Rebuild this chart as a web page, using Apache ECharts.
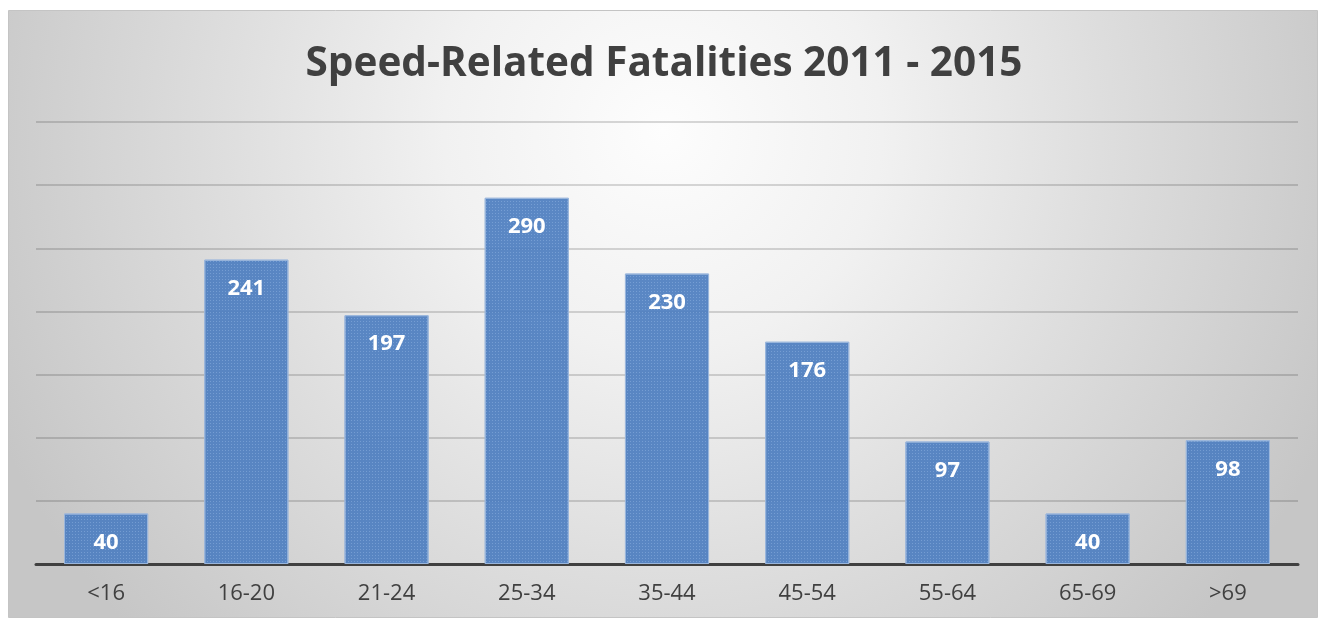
<!DOCTYPE html>
<html><head><meta charset="utf-8">
<script src="https://cdn.jsdelivr.net/npm/echarts@6/dist/echarts.min.js"></script>
<style>html,body{margin:0;padding:0;background:#fff}#c{width:1328px;height:621px}</style>
</head><body><div id="c"></div>
<script>
const categories = ['<16','16-20','21-24','25-34','35-44','45-54','55-64','65-69','>69'];
const fatalities = [40,241,197,290,230,176,97,40,98];
const titleText = 'Speed-Related Fatalities 2011 - 2015';

const chart = echarts.init(document.getElementById('c'));
chart.setOption({
  animation: false,
  backgroundColor: '#ffffff',
  graphic: [{
    type: 'rect', z: -10, silent: true,
    shape: {x: 8.5, y: 10.5, width: 1309, height: 607},
    style: {
      fill: {type: 'radial', x: 0.5, y: 0.2, r: 1.2,
        colorStops: [{offset: 0, color: '#fdfdfd'}, {offset: 0.3, color: '#f1f1f1'},
                     {offset: 0.6, color: '#dedede'}, {offset: 0.95, color: '#c9c9c9'}, {offset: 1, color: '#c6c6c6'}]},
      stroke: '#c4c4c4', lineWidth: 1
    }
  }],
  title: {
    text: titleText, left: 'center', top: 39,
    textStyle: {fontFamily: 'Open Sans', fontWeight: 'bold', fontSize: 40.5, color: '#404040'}
  },
  grid: {left: 36, right: 30, top: 122, bottom: 57, containLabel: false},
  xAxis: {
    type: 'category', data: categories,
    axisLine: {lineStyle: {color: '#404040', width: 3}},
    axisTick: {show: false},
    axisLabel: {fontFamily: 'Open Sans', fontSize: 22, color: '#404040', margin: 19}
  },
  yAxis: {
    type: 'value', min: 0, max: 350, interval: 50,
    axisLabel: {show: false}, axisLine: {show: false}, axisTick: {show: false},
    splitLine: {lineStyle: {color: 'rgba(0,0,0,0.2)', width: 1.5}}
  },
  series: [{
    type: 'bar', data: fatalities, barWidth: '60%',
    itemStyle: {color: 'rgba(80,128,192,0.94)', borderColor: '#9ab6dc', borderWidth: 1,
      decal: {symbol: 'rect', symbolSize: 1, color: 'rgba(170,200,240,0.35)', dashArrayX: [1, 2], dashArrayY: [1, 2], rotation: 0}},
    label: {show: true, position: 'insideTop', distance: 18, color: '#ffffff',
      fontFamily: 'Open Sans', fontWeight: 'bold', fontSize: 22}
  }]
});
</script></body></html>
